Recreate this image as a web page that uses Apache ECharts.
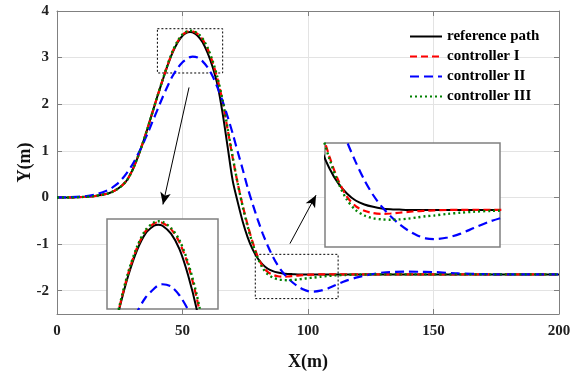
<!DOCTYPE html>
<html>
<head>
<meta charset="utf-8">
<script src="https://cdn.jsdelivr.net/npm/echarts@6/dist/echarts.min.js"></script>
<style>
  html, body { margin: 0; padding: 0; background: #fff; }
  #chart { width: 577px; height: 376px; }
</style>
</head>
<body>
<div id="chart"></div>
<script>
// x positions (m) shared by all curves
const xs = [0,5,10,15,20,22,24,26,28,30,32,34,36,38,40,42,44,46,48,50,52,53,54,56,58,60,62,64,66,68,70,72,74,76,78,80,82,84,86,88,90,92,94,96,98,100,102,105,108,111,115,120,125,130,135,140,145,150,155,160,170,180,190,200];

// lateral position Y (m)
const refPath = [0,0,0.01,0.03,0.08, 0.12,0.18,0.26,0.38,0.58, 0.84,1.14,1.47,1.82,2.17, 2.5,2.82,3.1,3.32,3.47,
  3.54,3.55,3.54,3.47,3.33, 3.1,2.8,2.4,1.8,1.08, 0.36,-0.1,-0.52,-0.86,-1.12, -1.31,-1.44,-1.53,-1.58,-1.61,
  -1.63,-1.64,-1.645,-1.65,-1.65, -1.65,-1.65,-1.65,-1.65,-1.65,-1.65,-1.65,-1.65,-1.65,-1.65,-1.65,-1.65,-1.65,-1.65,-1.65,-1.65,-1.65,-1.65,-1.65];
const ctrl1 = [0,0,0.01,0.03,0.08, 0.12,0.18,0.26,0.38,0.58, 0.84,1.14,1.47,1.82,2.17, 2.51,2.83,3.12,3.34,3.49,
  3.56,3.57,3.565,3.51,3.39, 3.19,2.9,2.53,2.05,1.45, 0.85,0.3,-0.18,-0.6,-0.97, -1.27,-1.48,-1.6,-1.66,-1.69,
  -1.7,-1.695,-1.685,-1.675,-1.665, -1.66,-1.655,-1.65, -1.65,-1.65,-1.65,-1.65,-1.65,-1.65,-1.65,-1.65,-1.65,-1.65,-1.65,-1.65,-1.65,-1.65,-1.65,-1.65];
const ctrl2 = [0,0.005,0.02,0.06,0.15, 0.21,0.29,0.4,0.54,0.7, 0.9,1.12,1.36,1.62,1.88, 2.14,2.38,2.6,2.77,2.9,
  2.98,3.01,3.02,3.0,2.92, 2.79,2.6,2.35,2.06,1.73, 1.37,0.98,0.6,0.2,-0.15, -0.48,-0.78,-1.04,-1.27,-1.46,
  -1.61,-1.73,-1.83,-1.91,-1.97, -2.01,-2.02,-2.0,-1.95,-1.88, -1.79,-1.71,-1.65,-1.61,-1.595,
  -1.59,-1.595,-1.6,-1.615,-1.63, -1.645,-1.65,-1.65,-1.65];
const ctrl3 = [0,0,0.01,0.03,0.08, 0.12,0.18,0.26,0.38,0.58, 0.84,1.14,1.47,1.82,2.17, 2.51,2.84,3.13,3.35,3.5,
  3.57,3.58,3.575,3.52,3.41, 3.21,2.93,2.56,2.08,1.48, 0.87,0.3,-0.2,-0.63,-1.0, -1.3,-1.52,-1.65,-1.72,-1.755,
  -1.77,-1.775,-1.77,-1.76,-1.745, -1.73,-1.72,-1.7,-1.685,-1.672, -1.662,-1.655,-1.65,
  -1.65,-1.65,-1.65,-1.65,-1.65,-1.65,-1.65,-1.65,-1.65,-1.65,-1.65];

const yTicks = [-2,-1,0,1,2,3,4];
const xTicks = [0,50,100,150,200];

const names = ['reference path','controller I','controller II','controller III'];
const curves = [refPath, ctrl1, ctrl2, ctrl3];

const FONT = 'Liberation Serif, "Times New Roman", serif';
const styles = [
  { color: '#000000', width: 2, type: 'solid' },
  { color: '#ff0000', width: 2.2, type: [7, 4] },
  { color: '#0000ff', width: 2.2, type: [9, 5] },
  { color: '#008000', width: 2.4, type: [2, 3] }
];

function pairs(ys) {
  return xs.map((x, i) => [x, ys[i]]);
}

const chart = echarts.init(document.getElementById('chart'));

const series = [];
[0, 1, 2].forEach(g => {
  curves.forEach((ys, k) => {
    const s = {
      name: names[k],
      type: 'line',
      xAxisIndex: g === 0 ? 0 : g + 1,
      yAxisIndex: g === 0 ? 0 : g + 1,
      data: pairs(ys),
      symbol: 'none',
      smooth: 0.3,
      animation: false,
      z: k === 0 ? 3 : 4,
      lineStyle: styles[k],
      itemStyle: { color: styles[k].color }
    };
    if (g === 0 && k === 0) {
      // zoom boxes and arrows
      s.markArea = {
        silent: true,
        itemStyle: { color: 'rgba(0,0,0,0)', borderColor: '#000', borderWidth: 1, borderType: [2, 2] },
        data: [
          [{ coord: [40, 3.62] }, { coord: [66, 2.67] }],
          [{ coord: [79, -1.22] }, { coord: [112, -2.17] }]
        ]
      };
      s.markLine = {
        silent: true,
        symbol: ['none', 'arrow'],
        symbolSize: [8, 12],
        label: { show: false },
        lineStyle: { color: '#000', width: 1, type: 'solid' },
        data: [
          [{ coord: [52.6, 2.36] }, { coord: [42.2, -0.15] }],
          [{ coord: [92.8, -0.99] }, { coord: [103.2, 0.05] }]
        ]
      };
    }
    series.push(s);
  });
});

const axisLine = { show: true, onZero: false, lineStyle: { color: '#808080', width: 1 } };
const tick = { show: true, inside: true, length: 5, lineStyle: { color: '#808080' } };
const label = { color: '#222', fontFamily: FONT, fontWeight: 'bold', fontSize: 15 };
const hidden = { show: false };
const insetBox = { show: true, backgroundColor: '#fff', borderColor: '#808080', borderWidth: 1.5, z: 1 };

const option = {
  animation: false,
  backgroundColor: '#fff',
  grid: [
    { left: 57, top: 11, width: 502, height: 314 },
    Object.assign({ left: 107, top: 219, width: 111, height: 90 }, insetBox),
    Object.assign({ left: 325, top: 143, width: 175, height: 104 }, insetBox)
  ],
  legend: {
    left: 404, top: 24, orient: 'vertical',
    itemWidth: 32, itemHeight: 14, itemGap: 5,
    data: names,
    itemStyle: { color: 'rgba(0,0,0,0)', borderColor: 'rgba(0,0,0,0)', borderWidth: 0 },
    textStyle: { color: '#000', fontFamily: FONT, fontWeight: 'bold', fontSize: 15 }
  },
  xAxis: [
    {
      gridIndex: 0, type: 'value', min: 0, max: 200, interval: 50,
      name: 'X(m)', nameLocation: 'middle', nameGap: 39,
      nameTextStyle: { color: '#111', fontFamily: FONT, fontWeight: 'bold', fontSize: 18 },
      axisLine: axisLine, axisTick: tick,
      axisLabel: Object.assign({ margin: 10, customValues: xTicks }, label),
      splitLine: { show: true, lineStyle: { color: '#e3e3e3', width: 1 } }
    },
    {
      gridIndex: 0, type: 'value', min: 0, max: 200, interval: 50, position: 'top',
      axisLine: axisLine, axisTick: tick, axisLabel: hidden, splitLine: hidden
    },
    { gridIndex: 1, type: 'value', min: 41, max: 67, show: false },
    { gridIndex: 2, type: 'value', min: 77, max: 117, show: false }
  ],
  yAxis: [
    {
      gridIndex: 0, type: 'value', min: -2.5, max: 4,
      name: 'Y(m)', nameLocation: 'middle', nameGap: 23, nameMoveOverlap: false,
      nameTextStyle: { color: '#111', fontFamily: FONT, fontWeight: 'bold', fontSize: 18 },
      axisLine: axisLine,
      axisTick: Object.assign({ customValues: yTicks }, tick),
      axisLabel: Object.assign({ margin: 8, customValues: yTicks }, label),
      splitLine: hidden
    },
    {
      gridIndex: 0, type: 'value', min: -2.5, max: 4, position: 'right',
      axisLine: axisLine, axisTick: Object.assign({ customValues: yTicks }, tick),
      axisLabel: hidden, splitLine: hidden
    },
    { gridIndex: 1, type: 'value', min: 2.8, max: 3.6, show: false },
    { gridIndex: 2, type: 'value', min: -2.12, max: -0.8, show: false },
    {
      // grid lines only, at every whole metre
      gridIndex: 0, type: 'value', min: -2.5, max: 4, interval: 0.5, position: 'left',
      axisLine: hidden, axisTick: hidden, axisLabel: hidden,
      splitLine: { show: true, lineStyle: { color: ['rgba(0,0,0,0)', '#e3e3e3'], width: 1 } }
    }
  ],
  series: series
};

chart.setOption(option);
</script>
</body>
</html>
